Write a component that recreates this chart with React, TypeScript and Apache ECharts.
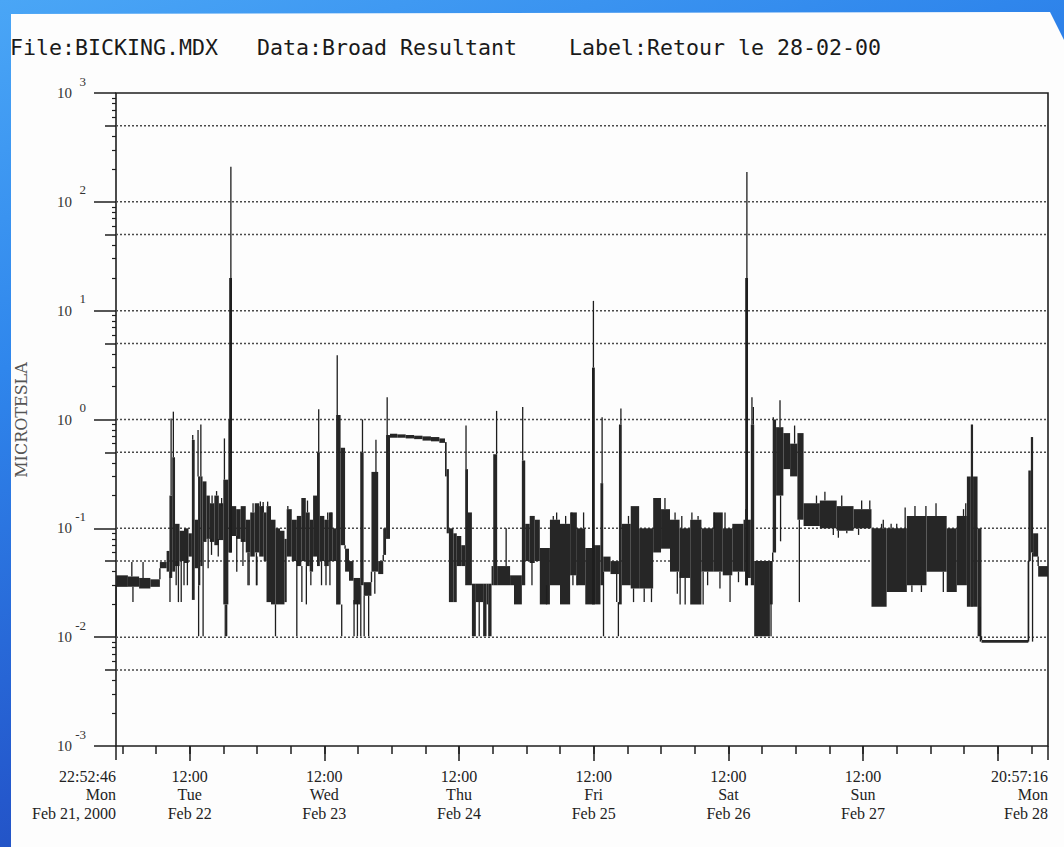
import React, { useEffect, useRef } from 'react';
import * as echarts from 'echarts';

type Seg = [number, number, number]; // [start hour, low µT, high µT]

// hours counted from Feb 21 2000, 00:00
const START_HOUR = 22 + 52 / 60 + 46 / 3600;
const END_HOUR = 7 * 24 + 20 + 57 / 60 + 16 / 3600;

const headerTexts = ['File:BICKING.MDX', 'Data:Broad Resultant', 'Label:Retour le 28-02-00'];
const yAxisTitle = 'MICROTESLA';
const startLabel = ['22:52:46', 'Mon', 'Feb 21, 2000'];
const endLabel = ['20:57:16', 'Mon', 'Feb 28'];
const dayNames = ['Mon', 'Tue', 'Wed', 'Thu', 'Fri', 'Sat', 'Sun', 'Mon'];
const dayDates = ['Feb 21, 2000', 'Feb 22', 'Feb 23', 'Feb 24', 'Feb 25', 'Feb 26', 'Feb 27', 'Feb 28'];
const sixHourTicks = [24, 30, 36, 42, 48, 54, 60, 66, 72, 78, 84, 90, 96, 102, 108, 114, 120, 126, 132, 138, 144, 150, 156, 162, 168, 174, 180, 186];
const noonTicks = [36, 60, 84, 108, 132, 156, 180];
const noonLabels = [36, 60, 84, 108, 132, 156];
const gridValues = [0.005, 0.01, 0.05, 0.1, 0.5, 1, 5, 10, 50, 100, 500];
const halfDecades = [0.005, 0.05, 0.5, 5, 50, 500];
const decadeExponents = [-3, -2, -1, 0, 1, 2];
const minorMantissas = [2, 3, 4, 6, 7, 8, 9];

// envelope of the recorded field, segment by segment
const segMonTue: Seg[] = [
  [22.88, 0.029, 0.037], [25.0, 0.029, 0.036], [27.0, 0.028, 0.035], [29.0, 0.029, 0.034],
  [30.7, 0.043, 0.049], [31.9, 0.04, 0.062], [32.4, 0.035, 0.2], [32.9, 0.04, 0.45],
  [33.4, 0.045, 0.11], [34.2, 0.05, 0.095], [35.0, 0.048, 0.1], [35.8, 0.055, 0.09],
  [36.4, 0.022, 0.65], [36.9, 0.043, 0.12], [37.5, 0.03, 0.3], [37.9, 0.045, 0.3],
  [38.3, 0.075, 0.27], [39.0, 0.08, 0.2], [39.6, 0.075, 0.17], [40.4, 0.07, 0.2],
  [41.2, 0.078, 0.17], [42.0, 0.02, 0.28], [42.9, 0.06, 1.0], [43.5, 0.085, 0.16],
  [44.3, 0.08, 0.15], [45.1, 0.075, 0.16], [46.0, 0.06, 0.12], [46.8, 0.055, 0.14],
  [47.6, 0.06, 0.17],
];
const segWed: Seg[] = [
  [48.4, 0.055, 0.16], [49.2, 0.05, 0.14], [49.7, 0.021, 0.16], [50.5, 0.02, 0.12],
  [51.3, 0.02, 0.1], [52.1, 0.02, 0.095], [52.9, 0.021, 0.08], [53.3, 0.055, 0.15],
  [54.2, 0.05, 0.12], [55.1, 0.045, 0.13], [55.9, 0.05, 0.19], [56.7, 0.045, 0.14],
  [57.4, 0.04, 0.12], [58.0, 0.055, 0.2], [58.7, 0.045, 0.5], [59.2, 0.05, 0.13],
  [60.0, 0.045, 0.12], [60.8, 0.05, 0.14], [61.5, 0.05, 0.1], [62.1, 0.02, 1.1],
  [62.9, 0.07, 0.55], [63.7, 0.04, 0.065], [64.4, 0.033, 0.05], [65.2, 0.02, 0.035],
  [66.4, 0.03, 0.5], [67.0, 0.024, 0.032], [68.4, 0.04, 0.33], [69.6, 0.038, 0.05],
  [70.5, 0.057, 0.1], [71.0, 0.08, 0.72],
];
const segThu: Seg[] = [
  [71.7, 0.68, 0.74], [73.0, 0.68, 0.73], [74.5, 0.67, 0.72], [76.0, 0.66, 0.71],
  [77.5, 0.64, 0.7], [79.0, 0.63, 0.69], [80.5, 0.61, 0.67], [81.5, 0.3, 0.62],
  [81.8, 0.09, 0.35], [82.2, 0.021, 0.1], [83.0, 0.021, 0.09], [83.6, 0.045, 0.085],
  [84.4, 0.045, 0.07], [85.1, 0.03, 0.35], [85.6, 0.03, 0.14], [86.3, 0.0102, 0.031],
  [87.0, 0.021, 0.031], [88.3, 0.0102, 0.031], [88.9, 0.02, 0.031], [89.2, 0.0102, 0.031],
  [89.8, 0.03, 0.045], [90.1, 0.03, 0.48], [90.8, 0.03, 0.045], [93.1, 0.03, 0.037],
  [93.8, 0.02, 0.037], [95.2, 0.03, 0.42],
];
const segFri: Seg[] = [
  [95.8, 0.05, 0.11], [96.6, 0.048, 0.13], [97.5, 0.05, 0.12], [98.4, 0.02, 0.066],
  [100.2, 0.03, 0.12], [102.0, 0.02, 0.11], [103.8, 0.037, 0.14], [105.0, 0.03, 0.1],
  [106.5, 0.02, 0.066], [107.9, 0.02, 0.07], [108.4, 0.02, 0.07], [109.2, 0.03, 0.26],
  [109.7, 0.04, 0.055], [111.0, 0.038, 0.05], [112.5, 0.02, 0.9], [113.0, 0.03, 0.11],
  [114.6, 0.028, 0.16], [116.1, 0.028, 0.1], [118.6, 0.06, 0.19],
];
const segSat: Seg[] = [
  [120.0, 0.065, 0.15], [121.6, 0.04, 0.12], [123.3, 0.035, 0.1], [125.2, 0.02, 0.12],
  [127.2, 0.04, 0.1], [129.3, 0.04, 0.14], [131.0, 0.037, 0.1], [132.7, 0.04, 0.11],
  [134.7, 0.04, 0.12], [135.0, 0.03, 0.15], [135.5, 0.035, 0.12], [136.0, 0.03, 0.9],
  [136.6, 0.0102, 0.05], [139.4, 0.02, 0.05], [139.9, 0.06, 1.0], [140.5, 0.2, 0.85],
  [141.8, 0.35, 0.75], [143.0, 0.3, 0.6],
];
const segSunMon: Seg[] = [
  [144.3, 0.12, 0.75], [145.4, 0.105, 0.17], [148.3, 0.1, 0.18], [151.3, 0.095, 0.16],
  [154.3, 0.1, 0.15], [157.5, 0.019, 0.1], [160.2, 0.026, 0.1], [163.8, 0.03, 0.13],
  [167.3, 0.04, 0.13], [170.9, 0.026, 0.1], [172.7, 0.03, 0.13], [174.5, 0.019, 0.3],
  [175.2, 0.019, 0.9], [175.6, 0.019, 0.3], [176.4, 0.0102, 0.1], [177.1, 0.0089, 0.0094],
  [185.45, 0.05, 0.34], [185.9, 0.06, 0.69], [186.3, 0.055, 0.09], [187.2, 0.036, 0.045],
];

// single excursions: [hour, low µT, high µT]
const thinSpikes: Seg[] = [
  [22.9, 0.0102, 0.03], [25.7, 0.036, 0.049], [25.9, 0.021, 0.029], [27.7, 0.035, 0.049],
  [32.5, 0.021, 0.04], [32.7, 0.2, 1.02], [33.1, 0.45, 1.18], [33.6, 0.03, 0.05],
  [34.0, 0.021, 0.05], [34.5, 0.021, 0.05], [35.0, 0.03, 0.05], [35.6, 0.03, 0.055],
  [36.55, 0.65, 0.72], [37.5, 0.3, 0.8], [37.6, 0.0102, 0.03], [38.0, 0.3, 0.9],
  [38.4, 0.0102, 0.075], [39.3, 0.043, 0.08], [39.9, 0.057, 0.08], [40.0, 0.17, 0.2],
  [40.8, 0.2, 0.22], [41.1, 0.055, 0.08], [41.7, 0.16, 0.19], [42.2, 0.28, 0.67],
  [42.35, 0.0102, 0.02], [42.6, 0.0102, 0.02], [43.35, 20, 210], [44.4, 0.04, 0.085],
  [45.5, 0.045, 0.08], [46.4, 0.03, 0.06], [46.6, 0.03, 0.06], [47.3, 0.14, 0.17],
  [47.9, 0.03, 0.06], [48.0, 0.03, 0.055], [48.6, 0.16, 0.176], [49.1, 0.14, 0.175],
  [49.9, 0.16, 0.176], [51.3, 0.0102, 0.02], [53.5, 0.15, 0.16], [55.1, 0.0102, 0.05],
  [56.0, 0.021, 0.045], [56.8, 0.02, 0.045], [57.0, 0.14, 0.18], [57.6, 0.03, 0.04],
  [59.0, 0.5, 1.24], [59.5, 0.03, 0.05], [60.3, 0.03, 0.045], [60.6, 0.12, 0.14],
  [61.0, 0.03, 0.05], [61.2, 0.12, 0.14], [62.3, 1.1, 3.9], [63.1, 0.0102, 0.02],
  [65.3, 0.0102, 0.022], [65.9, 0.0102, 0.022], [66.5, 0.0102, 0.03], [66.8, 0.5, 1.0],
  [67.1, 0.0102, 0.024], [67.9, 0.0102, 0.024], [69.0, 0.025, 0.04], [69.2, 0.33, 0.65],
  [71.2, 0.72, 1.6], [85.25, 0.35, 0.88], [87.6, 0.0102, 0.021], [90.7, 0.48, 1.2],
  [92.4, 0.045, 0.1], [95.35, 0.42, 1.3], [97.0, 0.03, 0.05], [99.6, 0.02, 0.03],
  [100.8, 0.12, 0.13], [101.4, 0.12, 0.14], [103.0, 0.11, 0.13], [104.1, 0.13, 0.14],
  [104.3, 0.03, 0.037], [105.0, 0.03, 0.037], [106.2, 0.1, 0.14], [107.95, 3.0, 12.3],
  [109.5, 0.26, 1.05], [109.75, 0.0102, 0.04], [112.1, 0.021, 0.038], [112.4, 0.0102, 0.021],
  [112.85, 0.9, 1.26], [114.2, 0.11, 0.13], [115.1, 0.021, 0.028], [117.0, 0.021, 0.028],
  [118.3, 0.021, 0.028], [120.7, 0.15, 0.19], [122.5, 0.12, 0.14], [122.9, 0.025, 0.04],
  [123.4, 0.02, 0.04], [123.7, 0.1, 0.13], [124.3, 0.02, 0.035], [125.5, 0.12, 0.14],
  [126.6, 0.12, 0.13], [127.5, 0.02, 0.04], [128.3, 0.03, 0.04], [129.5, 0.1, 0.14],
  [130.5, 0.028, 0.04], [131.4, 0.1, 0.14], [132.3, 0.021, 0.037], [133.8, 0.032, 0.04],
  [135.3, 20, 188], [136.2, 0.9, 1.6], [136.45, 0.9, 1.3], [139.6, 0.0102, 0.05],
  [140.0, 1.0, 1.05], [141.2, 0.85, 1.5], [141.3, 0.076, 0.2], [143.8, 0.6, 0.88],
  [144.65, 0.021, 0.12], [147.7, 0.17, 0.2], [149.2, 0.18, 0.217], [150.7, 0.087, 0.1],
  [151.6, 0.082, 0.095], [152.2, 0.16, 0.2], [153.1, 0.09, 0.095], [155.2, 0.087, 0.1],
  [155.75, 0.15, 0.18], [157.2, 0.15, 0.18], [159.3, 0.1, 0.11], [159.6, 0.1, 0.12],
  [161.0, 0.1, 0.11], [162.0, 0.1, 0.11], [163.5, 0.1, 0.155], [164.7, 0.026, 0.03],
  [165.25, 0.13, 0.16], [166.4, 0.026, 0.03], [167.2, 0.13, 0.16], [169.0, 0.13, 0.17],
  [170.3, 0.026, 0.04], [173.9, 0.13, 0.15], [174.3, 0.13, 0.17], [176.9, 0.0091, 0.019],
  [185.5, 0.0091, 0.05], [186.2, 0.0091, 0.06],
];
const thickSpikes: Seg[] = [
  [43.3, 0.06, 20], [107.95, 0.02, 3.0], [135.25, 0.03, 20],
];

const INK = '#1e1e1e';
const BAND = '#262626';
const SERIF = '"Liberation Serif", "DejaVu Serif", serif';

export default function App() {
  const ref = useRef<HTMLDivElement>(null);

  useEffect(() => {
    if (!ref.current) return;
    const chart = echarts.init(ref.current, undefined, { renderer: 'svg' });

    const segs = [...segMonTue, ...segWed, ...segThu, ...segFri, ...segSat, ...segSunMon];
    const bandData = segs.map((s, i) => [s[0], i + 1 < segs.length ? segs[i + 1][0] : END_HOUR, s[1], s[2]]);

    const tickStyle = { color: INK, width: 1.5 };
    const halfTickPos = halfDecades.map((v) => Math.log10(v));
    const minorTickPos: number[] = [];
    decadeExponents.forEach((e) => minorMantissas.forEach((m) => minorTickPos.push(e + Math.log10(m))));

    const baseX: any = {
      type: 'value', min: START_HOUR, max: END_HOUR, gridIndex: 0, position: 'bottom',
      axisLine: { show: false, onZero: false }, splitLine: { show: false }, minorTick: { show: false },
    };
    const labelText = { fontFamily: SERIF, fontSize: 16, lineHeight: 18.5, color: '#222' };
    const baseY: any = {
      type: 'value', min: -3, max: 3, gridIndex: 0, position: 'left',
      axisLine: { show: false, onZero: false }, splitLine: { show: false }, axisLabel: { show: false },
      minorTick: { show: false },
    };

    const option: any = {
      animation: false,
      grid: { left: 116, top: 93, right: 16, bottom: 101, show: true, borderColor: INK, borderWidth: 1.6, containLabel: false, outerBoundsMode: 'none' },
      xAxis: [
        { ...baseX, axisTick: { show: true, customValues: sixHourTicks, length: 8, lineStyle: tickStyle }, axisLabel: { show: false } },
        {
          ...baseX,
          axisTick: { show: true, customValues: noonTicks, length: 15, lineStyle: tickStyle },
          axisLabel: {
            show: true, customValues: noonLabels, margin: 21, align: 'center', ...labelText,
            formatter: (v: number) => {
              const d = Math.floor(v / 24);
              return `12:00\n${dayNames[d]}\n${dayDates[d]}`;
            },
          },
        },
        {
          ...baseX,
          axisTick: { show: true, customValues: [START_HOUR, END_HOUR], length: 14, lineStyle: tickStyle },
          axisLabel: {
            show: true, customValues: [START_HOUR, END_HOUR], margin: 21, align: 'right', ...labelText,
            formatter: (v: number) => (Math.abs(v - START_HOUR) < 1e-6 ? startLabel : endLabel).join('\n'),
          },
        },
      ],
      yAxis: [
        {
          type: 'log', logBase: 10, min: 0.001, max: 1000, gridIndex: 0, position: 'left',
          axisLine: { show: false, onZero: false }, splitLine: { show: false }, minorTick: { show: false },
          axisTick: { show: true, length: 22, lineStyle: tickStyle },
          axisLabel: {
            show: true, margin: 44, formatter: () => '10',
            fontFamily: SERIF, fontSize: 15, lineHeight: 16, padding: [4, 0, 0, 0], color: '#333',
          },
        },
        { ...baseY, axisTick: { show: true, customValues: halfTickPos, length: 11, lineStyle: tickStyle } },
        { ...baseY, axisTick: { show: true, customValues: minorTickPos, length: 4, lineStyle: { color: INK, width: 1.2 } } },
        {
          ...baseY, interval: 1, axisTick: { show: false },
          axisLabel: {
            show: true, margin: 30, formatter: (v: number) => `${v}`,
            fontFamily: SERIF, fontSize: 13, lineHeight: 24, verticalAlign: 'bottom', color: '#333',
          },
        },
      ],
      graphic: [
        { type: 'text', left: 10, top: 36, style: { text: headerTexts[0], font: '21.6px "DejaVu Sans Mono", monospace', fill: '#1a1a1a' } },
        { type: 'text', left: 257, top: 36, style: { text: headerTexts[1], font: '21.6px "DejaVu Sans Mono", monospace', fill: '#1a1a1a' } },
        { type: 'text', left: 569, top: 36, style: { text: headerTexts[2], font: '21.6px "DejaVu Sans Mono", monospace', fill: '#1a1a1a' } },
        {
          type: 'text', x: 21, y: 420, rotation: Math.PI / 2,
          style: { text: yAxisTitle, font: '16px "DejaVu Serif", serif', fill: '#555', align: 'center', verticalAlign: 'middle' },
        },
      ],
      series: [
        {
          type: 'custom', name: 'grid', coordinateSystem: 'cartesian2d', xAxisIndex: 0, yAxisIndex: 0,
          silent: true, z: 1, encode: { x: 0, y: 1 },
          data: gridValues.map((v) => [START_HOUR, v]),
          renderItem: (_p: any, api: any) => {
            const a = api.coord([START_HOUR, api.value(1)]);
            const b = api.coord([END_HOUR, api.value(1)]);
            return {
              type: 'line', shape: { x1: a[0], y1: a[1], x2: b[0], y2: b[1] },
              style: { stroke: '#4a4a4a', lineWidth: 1.5, lineDash: [2, 2] },
            };
          },
        },
        {
          type: 'custom', name: 'envelope', coordinateSystem: 'cartesian2d', xAxisIndex: 0, yAxisIndex: 0,
          silent: true, z: 10,
          encode: { x: [0, 1], y: [2, 3] },
          data: bandData,
          renderItem: (params: any, api: any) => {
            const i = params.dataIndex;
            const x0 = api.value(0), x1 = api.value(1), lo = api.value(2), hi = api.value(3);
            const a = api.coord([x0, hi]);
            const b = api.coord([x1, lo]);
            const children: any[] = [{
              type: 'rect',
              shape: { x: a[0], y: a[1], width: Math.max(b[0] - a[0], 1), height: Math.max(b[1] - a[1], 1.8) },
              style: { fill: BAND },
            }];
            if (i > 0) {
              const prev = bandData[i - 1];
              let top: number | null = null, bot: number | null = null;
              if (prev[3] < lo) { top = lo; bot = prev[3]; }
              else if (prev[2] > hi) { top = prev[2]; bot = hi; }
              if (top !== null && bot !== null) {
                const p = api.coord([x0, top]);
                const q = api.coord([x0, bot]);
                children.push({ type: 'rect', shape: { x: p[0] - 0.7, y: p[1], width: 1.4, height: q[1] - p[1] }, style: { fill: INK } });
              }
            }
            return { type: 'group', children };
          },
        },
        {
          type: 'custom', name: 'spikes', coordinateSystem: 'cartesian2d', xAxisIndex: 0, yAxisIndex: 0,
          silent: true, z: 11, encode: { x: 0, y: [1, 2] }, data: thinSpikes,
          renderItem: (_p: any, api: any) => {
            const a = api.coord([api.value(0), api.value(2)]);
            const b = api.coord([api.value(0), api.value(1)]);
            return { type: 'rect', shape: { x: a[0] - 0.65, y: a[1], width: 1.3, height: b[1] - a[1] }, style: { fill: INK } };
          },
        },
        {
          type: 'custom', name: 'thick', coordinateSystem: 'cartesian2d', xAxisIndex: 0, yAxisIndex: 0,
          silent: true, z: 11, encode: { x: 0, y: [1, 2] }, data: thickSpikes,
          renderItem: (_p: any, api: any) => {
            const a = api.coord([api.value(0), api.value(2)]);
            const b = api.coord([api.value(0), api.value(1)]);
            return { type: 'rect', shape: { x: a[0] - 1.4, y: a[1], width: 2.8, height: b[1] - a[1] }, style: { fill: INK } };
          },
        },
      ],
    };

    chart.setOption(option);
    return () => chart.dispose();
  }, []);

  return (
    <div style={{ position: 'fixed', left: 0, top: 0, width: 1064, height: 847, background: 'linear-gradient(160deg, #4aa6f6 0%, #2f86ec 30%, #2458cc 65%, #1a389c 100%)' }}>
      <div style={{ position: 'absolute', inset: 0, background: '#fdfdfd', clipPath: 'polygon(11px 14px, 1050px 12px, 1064px 40px, 1064px 847px, 11px 847px)' }} />
      <div ref={ref} style={{ position: 'absolute', left: 0, top: 0, width: 1064, height: 847 }} />
    </div>
  );
}
